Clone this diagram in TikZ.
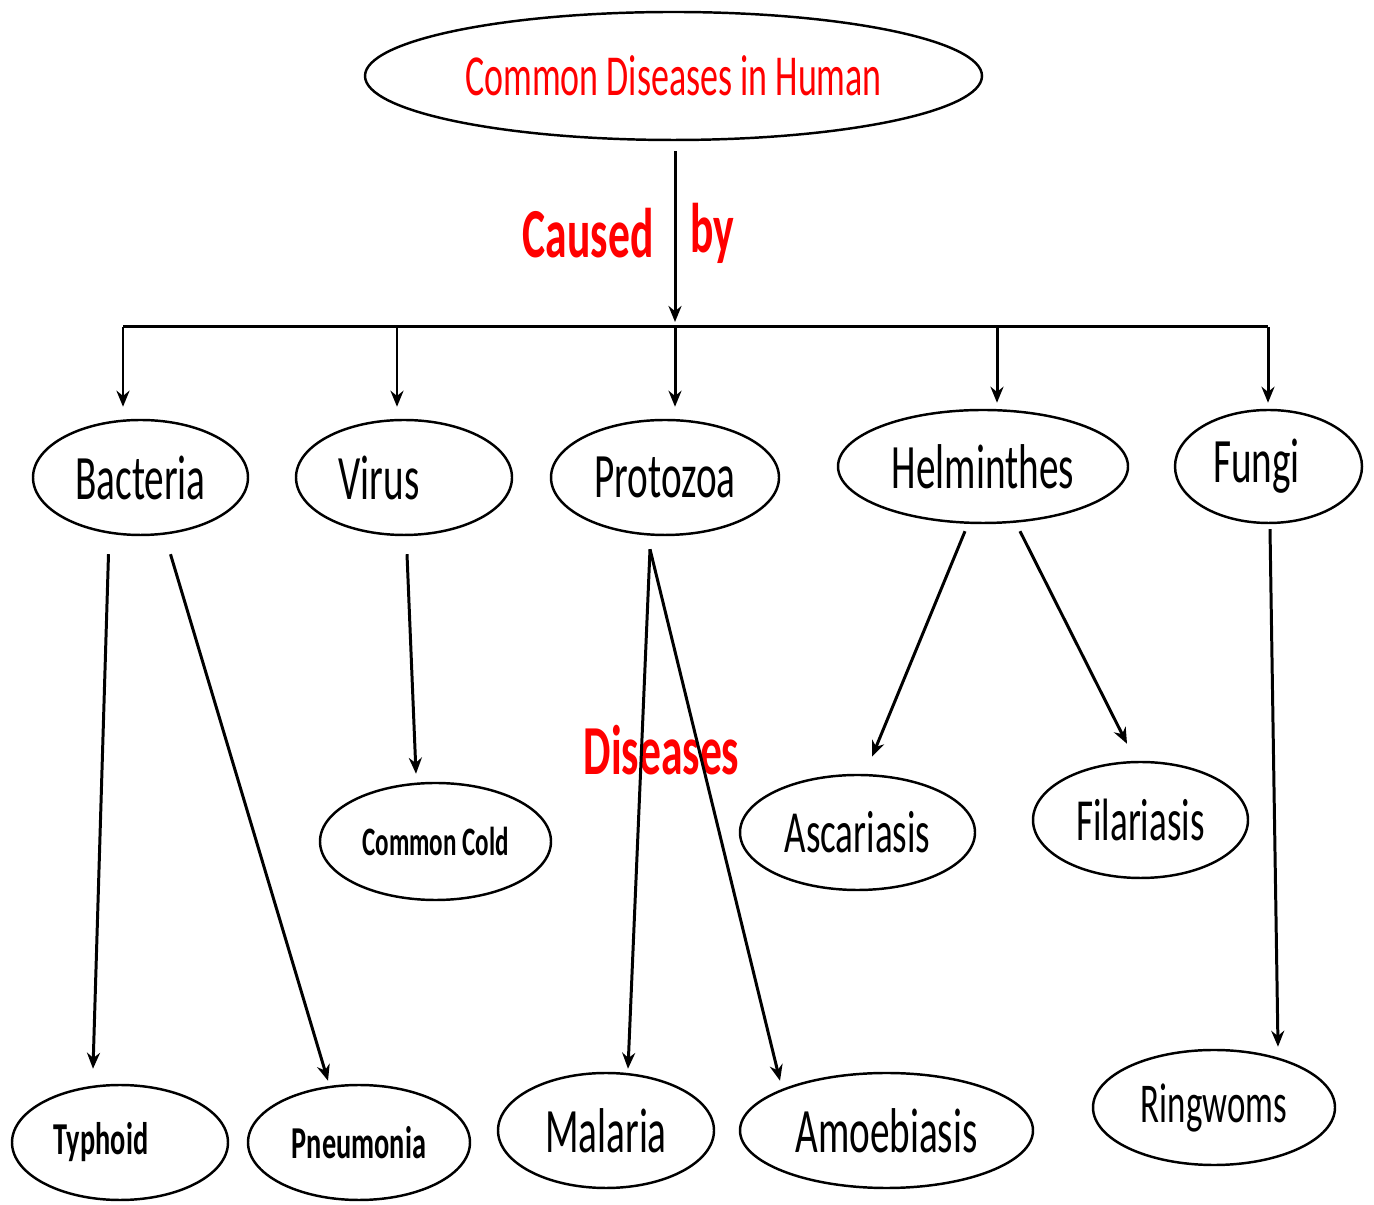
\documentclass[tikz,border=0pt]{standalone}
\usepackage{fontspec}
\usepackage{xcolor}
\usetikzlibrary{shapes.geometric, arrows.meta, positioning, calc}
\setmainfont{Carlito}
\newfontfamily\narrowfont{Carlito}[FakeStretch=0.62]

\begin{document}
\begin{tikzpicture}[
  blob/.style={draw,ellipse,line width=0.7pt,inner sep=0pt,font=\narrowfont\fontsize{18}{20}\selectfont},
  small/.style={font=\narrowfont\bfseries\fontsize{13}{15}\selectfont},
  mid/.style={font=\narrowfont\fontsize{17}{19}\selectfont},
  redlabel/.style={text=red,font=\narrowfont\bfseries\fontsize{20}{22}\selectfont},
  arrow/.style={-{Stealth[length=1.6mm,width=1.3mm]},line width=0.85pt}]
  \useasboundingbox (0,0) rectangle (13.74,-12.05);
  % top
  \node[blob,minimum width=6.17cm,minimum height=1.28cm,text=red,font=\narrowfont\fontsize{16.5}{18}\selectfont] (top) at (6.735,-0.76) {Common Diseases in Human};
  \node[redlabel,anchor=east] (caused) at (6.66,-2.33) {Caused};
  \node[redlabel,anchor=west] (by) at (6.78,-2.33) {by};
  % groups
  \node[blob,minimum width=2.15cm,minimum height=1.15cm] (bact) at (1.405,-4.775) {Bacteria};
  \node[blob,minimum width=2.16cm,minimum height=1.15cm] (virus) at (4.04,-4.775) {Virus\hspace*{0.5cm}};
  \node[blob,minimum width=2.28cm,minimum height=1.15cm] (proto) at (6.65,-4.775) {Protozoa};
  \node[blob,minimum width=2.90cm,minimum height=1.13cm] (helm) at (9.83,-4.665) {Helminthes};
  \node[blob,minimum width=1.87cm,minimum height=1.13cm] (fungi) at (12.685,-4.665) {Fungi\hspace*{0.24cm}};
  % diseases
  \node[blob,small,minimum width=2.31cm,minimum height=1.17cm,font=\narrowfont\bfseries\fontsize{11.5}{13}\selectfont] (cold) at (4.355,-8.415) {Common Cold};
  \node[blob,mid,minimum width=2.35cm,minimum height=1.15cm] (asc) at (8.575,-8.325) {Ascariasis};
  \node[blob,mid,minimum width=2.15cm,minimum height=1.16cm] (fil) at (11.405,-8.20) {Filariasis};
  \node[blob,small,minimum width=2.16cm,minimum height=1.15cm] (typh) at (1.20,-11.425) {Typhoid\hspace*{0.38cm}};
  \node[blob,small,minimum width=2.22cm,minimum height=1.15cm] (pneu) at (3.59,-11.425) {Pneumonia};
  \node[blob,minimum width=2.16cm,minimum height=1.15cm] (mal) at (6.06,-11.305) {Malaria};
  \node[blob,minimum width=2.93cm,minimum height=1.15cm] (amoe) at (8.865,-11.305) {Amoebiasis};
  \node[blob,minimum width=2.42cm,minimum height=1.15cm,font=\narrowfont\fontsize{16}{18}\selectfont] (ring) at (12.14,-11.075) {Ringwoms};
  \node[redlabel] (dis) at (6.615,-7.50) {Diseases};
  % bus line
  \coordinate (b1) at (1.23,-3.27);
  \coordinate (b2) at (3.97,-3.27);
  \coordinate (b3) at (6.75,-3.27);
  \coordinate (b4) at (9.97,-3.27);
  \coordinate (b5) at (12.68,-3.27);
  \draw[arrow,shorten <=1mm,shorten >=0.5mm] (top.south -| b3) -- (b3);
  \draw[line width=0.85pt] (b1) -- (b5);
  \draw[arrow,shorten >=1.2mm] (b1) -- (b1 |- bact.north);
  \draw[arrow,shorten >=1.2mm] (b2) -- (b2 |- virus.north);
  \draw[arrow,shorten >=1.2mm] (b3) -- (b3 |- proto.north);
  \draw[arrow,shorten >=0.6mm] (b4) -- (b4 |- helm.north);
  \draw[arrow,shorten >=0.6mm] (b5) -- (b5 |- fungi.north);
  % branches
  \draw[arrow] ([shift={(-0.32,-0.18)}]bact.south) -- ([shift={(-0.27,0.15)}]typh.north);
  \draw[arrow] ([shift={(0.30,-0.18)}]bact.south) -- ([shift={(-0.31,0.03)}]pneu.north);
  \draw[arrow] ([shift={(0.03,-0.18)}]virus.south) -- ([shift={(-0.195,0.08)}]cold.north);
  \draw[arrow] ([shift={(-0.15,-0.13)}]proto.south) -- ([shift={(0.22,0.03)}]mal.north);
  \draw[arrow] ([shift={(-0.15,-0.13)}]proto.south) -- ([shift={(-1.065,-0.09)}]amoe.north);
  \draw[arrow] ([shift={(-0.18,-0.07)}]helm.south) -- ([shift={(0.145,0.17)}]asc.north);
  \draw[arrow] ([shift={(0.37,-0.07)}]helm.south) -- ([shift={(-0.135,0.17)}]fil.north);
  \draw[arrow] ([shift={(0.015,-0.05)}]fungi.south) -- ([shift={(0.64,0.02)}]ring.north);
\end{tikzpicture}
\end{document}
